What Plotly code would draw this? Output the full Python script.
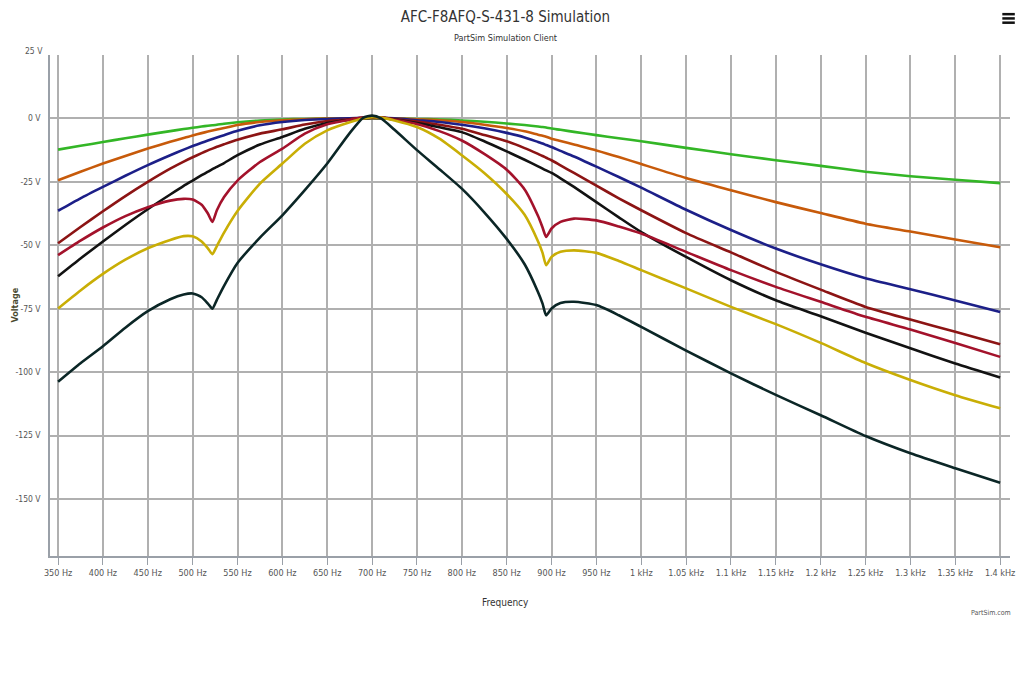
import plotly.graph_objects as go

# frequency points (Hz) shared by all curves
freq = [350, 375, 400, 425, 450, 475, 490, 500, 510, 517, 522, 527, 535, 550, 575, 600,
        625, 650, 675, 690, 700, 710, 725, 750, 775, 800, 825, 850, 870, 885, 890, 894,
        900, 910, 925, 950, 975, 1000, 1050, 1100, 1150, 1200, 1250, 1300, 1350, 1400]

green = [-12.3, -10.8, -9.3, -7.8, -6.4, -5.0, -4.2, -3.7, -3.2, -2.9, -2.7, -2.5, -2.1, -1.5, -0.8, -0.4,
         -0.2, -0.1, 0, 0, 0, 0, -0.05, -0.2, -0.4, -0.8, -1.3, -2.0, -2.6, -3.2, -3.4, -3.6,
         -4.0, -4.5, -5.3, -6.6, -7.8, -9.0, -11.6, -14.1, -16.5, -18.7, -21.0, -22.8, -24.2, -25.5]

orange = [-24.4, -21.0, -17.8, -14.8, -11.9, -9.2, -7.7, -6.7, -5.8, -5.2, -4.8, -4.4, -3.8, -2.6, -1.4, -0.7,
          -0.3, -0.1, 0, 0.1, 0.1, 0.1, 0, -0.3, -0.7, -1.4, -2.5, -3.8, -5.1, -6.4, -6.8, -7.2,
          -8.0, -8.9, -10.3, -12.6, -15.2, -18.0, -23.5, -28.3, -33.0, -37.3, -41.5, -44.6, -47.7, -50.8]

blue = [-36.4, -31.5, -27.0, -22.6, -18.4, -14.5, -12.3, -10.9, -9.6, -8.7, -8.1, -7.5, -6.6, -4.9, -2.7, -1.4,
        -0.6, -0.2, 0, 0.2, 0.2, 0.2, 0, -0.7, -1.4, -2.5, -3.9, -5.7, -7.5, -9.3, -9.9, -10.5,
        -11.3, -12.8, -15.0, -19.0, -23.1, -27.3, -36.0, -44.0, -51.3, -57.5, -63.0, -67.3, -71.8, -76.3]

dark_red = [-49.2, -42.8, -36.6, -30.6, -25.0, -19.8, -17.0, -15.3, -13.7, -12.6, -11.9, -11.2, -10.2, -8.4, -6.0, -4.3,
            -2.4, -1.0, -0.3, 0.2, 0.3, 0.3, -0.2, -1.2, -2.5, -4.1, -6.5, -9.0, -11.7, -14.0, -14.8, -15.5,
            -16.5, -18.5, -21.5, -26.5, -31.5, -36.2, -45.2, -52.8, -60.5, -67.5, -74.3, -79.3, -84.1, -89.0]

red_notch = [-53.9, -48.2, -43.0, -38.5, -35.0, -32.4, -31.7, -32.0, -34.0, -37.5, -40.8, -36.2, -31.0, -24.5, -17.2, -11.9,
             -6.0, -2.3, -0.5, 0.3, 0.5, 0.3, -0.5, -2.2, -5.0, -8.7, -14.0, -20.2, -28.0, -38.5, -43.0, -46.7,
             -43.4, -40.8, -39.5, -40.2, -42.6, -45.4, -52.6, -59.8, -66.4, -72.3, -78.2, -83.2, -88.5, -94.0]

black = [-62.2, -55.2, -48.5, -42.0, -35.8, -30.0, -26.6, -24.5, -22.4, -21.0, -20.0, -19.1, -17.6, -14.5, -10.3, -7.3,
         -4.1, -1.8, -0.5, 0.1, 0.3, 0.2, -0.4, -1.8, -3.5, -5.4, -9.0, -13.0, -16.3, -18.9, -19.8, -20.5,
         -21.5, -23.6, -27.0, -33.0, -39.0, -44.8, -54.6, -63.8, -71.7, -78.0, -84.5, -90.6, -96.6, -102.1]

yellow = [-74.9, -67.8, -61.3, -55.7, -51.2, -47.9, -46.4, -46.5, -48.5, -51.2, -53.5, -50.3, -45.0, -36.5, -25.7, -17.8,
          -10.0, -4.7, -1.5, 0, 0.5, 0.3, -0.8, -3.4, -8.0, -14.5, -21.5, -29.8, -38.0, -48.5, -53.0, -57.9,
          -54.6, -52.6, -52.0, -53.0, -56.2, -59.8, -67.0, -74.3, -81.1, -88.5, -96.4, -103.1, -109.1, -114.3]

teal = [-103.8, -96.5, -89.8, -82.5, -76.0, -71.3, -69.4, -69.0, -70.5, -73.0, -75.0, -71.5, -66.0, -57.0, -47.0, -38.2,
        -28.3, -17.8, -5.8, 0.2, 1.1, 0.0, -4.5, -12.5, -20.0, -27.7, -37.0, -47.5, -57.5, -68.5, -73.0, -77.6,
        -74.9, -72.8, -72.3, -73.6, -77.6, -82.2, -91.5, -100.5, -109.0, -117.0, -125.2, -132.0, -137.9, -143.6]

series = [
    (green, "#33b626"),
    (orange, "#c75a0a"),
    (blue, "#1c1f88"),
    (dark_red, "#8c1414"),
    (black, "#121212"),
    (red_notch, "#a3122b"),
    (yellow, "#c9ae05"),
    (teal, "#0b2626"),
]

x_ticks = list(range(350, 1401, 50))
x_labels = ["350 Hz", "400 Hz", "450 Hz", "500 Hz", "550 Hz", "600 Hz", "650 Hz", "700 Hz",
            "750 Hz", "800 Hz", "850 Hz", "900 Hz", "950 Hz", "1 kHz", "1.05 kHz", "1.1 kHz",
            "1.15 kHz", "1.2 kHz", "1.25 kHz", "1.3 kHz", "1.35 kHz", "1.4 kHz"]
y_ticks = [0, -25, -50, -75, -100, -125, -150]
y_labels = ["0 V", "-25 V", "-50 V", "-75 V", "-100 V", "-125 V", "-150 V"]
y_top = 25

font_family = "DejaVu Sans Condensed, Liberation Sans Narrow, sans-serif"

fig = go.Figure()
for values, color in series:
    fig.add_trace(go.Scatter(x=freq, y=values, mode="lines",
                             line={'color': color, 'width': 2.6, 'shape': "spline", 'smoothing': 0.6},
                             hoverinfo="skip"))

fig.update_layout(
    width=1023, height=681,
    margin={'l': 50, 'r': 13, 't': 55, 'b': 125},
    paper_bgcolor="white", plot_bgcolor="white",
    showlegend=False,
    font={'family': font_family, 'size': 9, 'color': "#555555"},
    title={
        'text': "AFC-F8AFQ-S-431-8 Simulation",
        'x': 0.494, 'xanchor': "center", 'y': 0.975, 'yanchor': "middle",
        'font': {'size': 15, 'color': "#333333", 'family': font_family},
    },
    xaxis={
        'range': [341, 1411], 'automargin': False,
        'tickmode': "array", 'tickvals': x_ticks, 'ticktext': x_labels,
        'showgrid': True, 'gridcolor': "#b0b0b0", 'gridwidth': 1.5,
        'zeroline': False,
        'showline': True, 'linecolor': "#9aa0a8", 'linewidth': 1.5,
        'ticks': "outside", 'ticklen': 7, 'tickcolor': "#9aa0a8", 'tickwidth': 1,
        'tickfont': {'size': 9, 'color': "#555555"},
    },
    yaxis={
        'range': [-172.5, y_top], 'automargin': False,
        'tickmode': "array", 'tickvals': y_ticks, 'ticktext': y_labels,
        'showgrid': True, 'gridcolor': "#b0b0b0", 'gridwidth': 1.5,
        'zeroline': False,
        'showline': True, 'linecolor': "#9aa0a8", 'linewidth': 1.5,
        'ticks': "", 'ticklabelstandoff': 6,
        'tickfont': {'size': 8.5, 'color': "#555555"},
    },
    annotations=[
        {'text': "PartSim Simulation Client", 'xref': "paper", 'yref': "paper",
         'x': 0.474, 'y': 1.0, 'yshift': 17, 'yanchor': "middle", 'showarrow': False,
         'font': {'size': 9, 'color': "#333333"}},
        {'text': "25 V", 'xref': "paper", 'yref': "y", 'x': 0, 'y': y_top,
         'xanchor': "right", 'xshift': -5, 'yshift': 4, 'showarrow': False,
         'font': {'size': 8.5, 'color': "#555555"}},
        {'text': "Frequency", 'xref': "paper", 'yref': "paper",
         'x': 0.474, 'y': 0, 'yshift': -46, 'yanchor': "middle", 'showarrow': False,
         'font': {'size': 10, 'color': "#333333"}},
        {'text': "<b>Voltage</b>", 'xref': "paper", 'yref': "paper",
         'x': 0, 'xshift': -36, 'xanchor': "center", 'y': 0.5, 'yanchor': "middle",
         'textangle': -90, 'showarrow': False,
         'font': {'size': 9, 'color': "#4a4a30"}},
        {'text': "PartSim.com", 'xref': "paper", 'yref': "paper",
         'x': 1.0, 'y': 0, 'yshift': -57, 'yanchor': "middle", 'xshift': 3, 'xanchor': "right",
         'showarrow': False, 'font': {'size': 7, 'color': "#555555"}},
    ],
)

# export-menu icon in the top right corner
for i in range(3):
    fig.add_shape(type="rect", xref="paper", yref="paper",
                  x0=0.992, x1=1.005, y0=1.0 + 0.062 + i * 0.0085, y1=1.0 + 0.067 + i * 0.0085,
                  fillcolor="#111111", line={'width': 0})

fig.write_html("out.html", config={'displayModeBar': False},
               post_script="document.body.style.margin='0';")
